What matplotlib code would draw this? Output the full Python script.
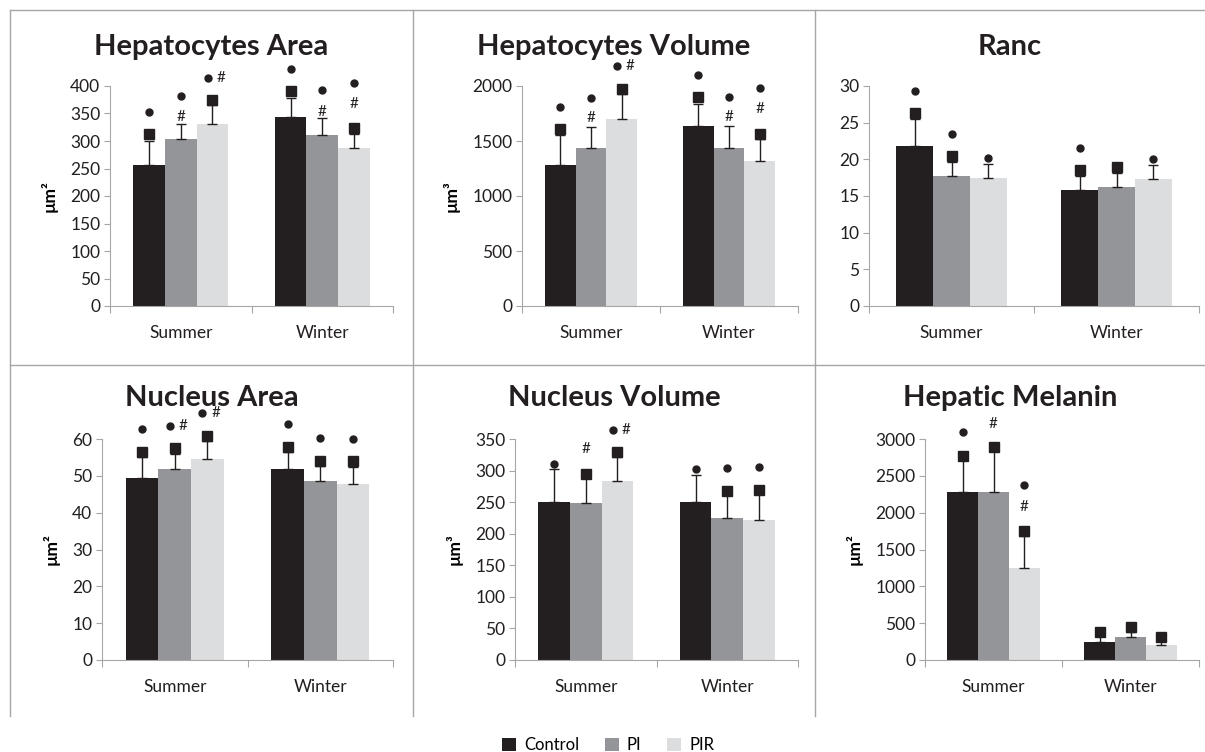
import matplotlib
matplotlib.use("Agg")
import matplotlib.pyplot as plt
import matplotlib.transforms as mtransforms
from matplotlib.lines import Line2D
from matplotlib.patches import Patch
import numpy as np

plt.rcParams['font.family'] = ['Lato', 'DejaVu Sans']

seasons = ['Summer', 'Winter']
groups = ['Control', 'PI', 'PIR']
colors = ['#231f20', '#939598', '#dcddde']

titles = ['Hepatocytes Area', 'Hepatocytes Volume', 'Ranc',
          'Nucleus Area', 'Nucleus Volume', 'Hepatic Melanin']
ylabels = ['µm²', 'µm³', '', 'µm²', 'µm³', 'µm²']
ymax = [400, 2000, 30, 60, 350, 3000]
ystep = [50, 500, 5, 10, 50, 500]

# mean[group][season], group = Control, PI, PIR ; season = Summer, Winter
hep_area_mean = [[256, 344], [303, 311], [330, 288]]
hep_area_err = [[44, 34], [27, 30], [35, 25]]
hep_area_marks = [(0, 0, 's', 312), (0, 0, 'o', 353),
                  (1, 0, '#', 343), (1, 0, 'o', 382),
                  (2, 0, 's', 375), (2, 0, 'o#', 415),
                  (0, 1, 's', 390), (0, 1, 'o', 431),
                  (1, 1, '#', 353), (1, 1, 'o', 392),
                  (2, 1, 's', 324), (2, 1, '#', 367), (2, 1, 'o', 406)]

hep_vol_mean = [[1282, 1636], [1436, 1436], [1700, 1318]]
hep_vol_err = [[270, 203], [194, 203], [224, 197]]
hep_vol_marks = [(0, 0, 's', 1606), (0, 0, 'o', 1806),
                 (1, 0, '#', 1706), (1, 0, 'o', 1894),
                 (2, 0, 's', 1976), (2, 0, 'o#', 2185),
                 (0, 1, 's', 1897), (0, 1, 'o', 2097),
                 (1, 1, '#', 1715), (1, 1, 'o', 1903),
                 (2, 1, 's', 1567), (2, 1, '#', 1788), (2, 1, 'o', 1979)]

ranc_mean = [[21.8, 15.8], [17.7, 16.2], [17.45, 17.3]]
ranc_err = [[3.7, 1.9], [1.9, 2.0], [1.85, 1.9]]
ranc_marks = [(0, 0, 's', 26.3), (0, 0, 'o', 29.3),
              (1, 0, 's', 20.4), (1, 0, 'o', 23.5),
              (2, 0, 'o', 20.2),
              (0, 1, 's', 18.5), (0, 1, 'o', 21.6),
              (1, 1, 's', 19.0),
              (2, 1, 'o', 20.1)]

nuc_area_mean = [[49.4, 51.9], [51.9, 48.6], [54.6, 47.8]]
nuc_area_err = [[5.6, 4.6], [4.0, 4.1], [4.9, 4.7]]
nuc_area_marks = [(0, 0, 's', 56.5), (0, 0, 'o', 62.6),
                  (1, 0, 's', 57.5), (1, 0, 'o#', 63.4),
                  (2, 0, 's', 60.9), (2, 0, 'o#', 67.0),
                  (0, 1, 's', 57.8), (0, 1, 'o', 64.2),
                  (1, 1, 's', 54.1), (1, 1, 'o', 60.2),
                  (2, 1, 's', 53.9), (2, 1, 'o', 60.0)]

nuc_vol_mean = [[251, 251], [248, 225], [283, 222]]
nuc_vol_err = [[51, 42], [43, 45], [38, 47]]
nuc_vol_marks = [(0, 0, 'o', 311),
                 (1, 0, 's', 295), (1, 0, '#', 334),
                 (2, 0, 's', 330), (2, 0, 'o#', 365),
                 (0, 1, 'o', 303),
                 (1, 1, 's', 268), (1, 1, 'o', 304),
                 (2, 1, 's', 270), (2, 1, 'o', 306)]

melanin_mean = [[2281, 249], [2281, 312], [1249, 204]]
melanin_err = [[434, 77], [550, 73], [439, 54]]
melanin_marks = [(0, 0, 's', 2769), (0, 0, 'o', 3090),
                 (1, 0, 's', 2887), (1, 0, '#', 3199),
                 (2, 0, 's', 1756), (2, 0, '#', 2081), (2, 0, 'o', 2371),
                 (0, 1, 's', 385),
                 (1, 1, 's', 452),
                 (2, 1, 's', 317)]

means = [hep_area_mean, hep_vol_mean, ranc_mean, nuc_area_mean, nuc_vol_mean, melanin_mean]
errs = [hep_area_err, hep_vol_err, ranc_err, nuc_area_err, nuc_vol_err, melanin_err]
marks = [hep_area_marks, hep_vol_marks, ranc_marks, nuc_area_marks, nuc_vol_marks, melanin_marks]

# layout in pixels: (left, right, y of zero, y of top)
W, H = 1205, 752
boxes = [(110, 393, 306, 86), (522, 798, 306, 86), (869, 1199, 306, 86),
         (102, 393, 660, 439), (515, 798, 660, 439), (925, 1199, 660, 439)]
cells = [(10, 413, 10), (413, 815, 10), (815, 1205, 10),
         (10, 413, 365), (413, 815, 365), (815, 1205, 365)]
title_y = [47, 47, 47, 398, 398, 398]

fig = plt.figure(figsize=(W / 100, H / 100), dpi=100)

grey = '#a6a6a6'
ink = '#231f20'
# panel frame lines
for y in [10, 365]:
    fig.add_artist(Line2D([10 / W, 1], [1 - y / H, 1 - y / H], transform=fig.transFigure, color=grey, lw=1))
for x in [10, 413, 815]:
    fig.add_artist(Line2D([x / W, x / W], [1 - 10 / H, 1 - 716 / H], transform=fig.transFigure, color=grey, lw=1))

bw = 0.224
xs = np.arange(len(seasons))
for i in range(6):
    l, r, y0, yt = boxes[i]
    ax = fig.add_axes([l / W, 1 - y0 / H, (r - l) / W, (y0 - yt) / H])
    for g in range(3):
        pos = xs + (g - 1) * bw
        ax.bar(pos, means[i][g], width=bw, color=colors[g], zorder=2)
        ax.errorbar(pos, means[i][g], yerr=[np.zeros(2), errs[i][g]], fmt='none',
                    ecolor=ink, elinewidth=1, capsize=3.5, capthick=1, zorder=3)
    left_t = mtransforms.offset_copy(ax.transData, fig=fig, x=-3.5, y=0, units='points')
    right_t = mtransforms.offset_copy(ax.transData, fig=fig, x=6, y=0, units='points')
    for g, s, m, y in marks[i]:
        x = s + (g - 1) * bw
        if m == 'o':
            ax.plot(x, y, 'o', color=ink, ms=5, clip_on=False, zorder=5)
        elif m == 's':
            ax.plot(x, y, 's', color=ink, ms=6.5, clip_on=False, zorder=5)
        elif m == '#':
            ax.text(x, y, '#', ha='center', va='center', fontsize=11, color=ink, clip_on=False)
        elif m == 'o#':
            ax.plot(x, y, 'o', color=ink, ms=5, clip_on=False, zorder=5, transform=left_t)
            ax.text(x, y, '#', ha='center', va='center', fontsize=11, color=ink,
                    clip_on=False, transform=right_t)
    ax.set_xlim(-0.5, 1.5)
    ax.set_ylim(0, ymax[i])
    ax.set_yticks(np.arange(0, ymax[i] + ystep[i] / 2, ystep[i]))
    ax.set_xticks([-0.5, 0.5, 1.5])
    ax.set_xticklabels([])
    ax.set_xticks(xs, minor=True)
    ax.set_xticklabels(seasons, minor=True)
    ax.tick_params(axis='x', which='minor', length=0, pad=14, labelsize=12.5, colors=ink)
    ax.tick_params(axis='x', which='major', length=5, color=grey, direction='out')
    ax.tick_params(axis='y', length=4, color=grey, labelsize=12.5, labelcolor=ink, pad=3)
    for sp in ['top', 'right']:
        ax.spines[sp].set_visible(False)
    ax.spines['left'].set_color(grey)
    ax.spines['bottom'].set_color(grey)
    if ylabels[i]:
        ax.set_ylabel(ylabels[i], fontsize=12.5, fontweight='bold', labelpad=9)
    cl, cr, ct = cells[i]
    fig.text((cl + cr) / 2 / W, 1 - title_y[i] / H, titles[i], ha='center', va='center',
             fontsize=21, fontweight='bold', color=ink)

handles = [Patch(facecolor=colors[g], edgecolor='none', label=groups[g]) for g in range(3)]
fig.legend(handles=handles, loc='center', bbox_to_anchor=(608 / W, 1 - 745 / H), ncol=3,
           frameon=False, fontsize=12, handlelength=0.85, handleheight=0.85,
           columnspacing=1.5, handletextpad=0.5)

fig.savefig('out.png', dpi=100, facecolor='white')
